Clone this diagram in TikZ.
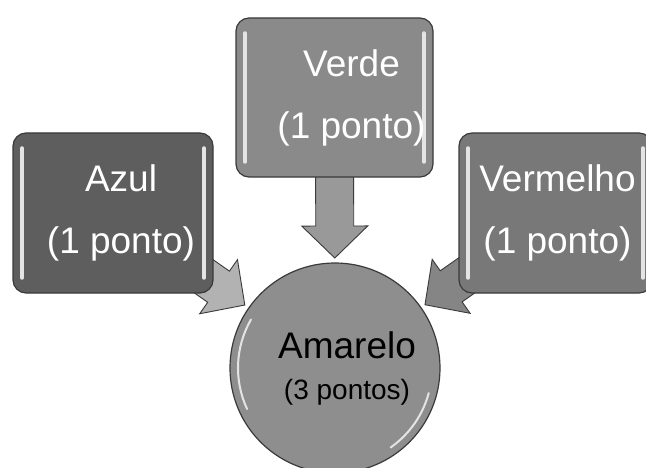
\documentclass[tikz,border=0pt]{standalone}
\usepackage{fontspec}
\setmainfont{Liberation Sans}
\usetikzlibrary{calc,backgrounds}

\definecolor{edgegray}{HTML}{3A3A3A}
\definecolor{shine}{HTML}{E4E4E4}
\definecolor{azulfill}{HTML}{5E5E5E}
\definecolor{verdefill}{HTML}{8A8A8A}
\definecolor{vermelhofill}{HTML}{787878}
\definecolor{amarelofill}{HTML}{8E8E8E}

% fat block arrow from node #1 to node #2, tip kept off the target
\newcommand{\fatarrow}[3]{%
	\draw[fat, fill=#3] let \p1=($(#1.center)-(#2.center)$), \n1={atan2(\y1,\x1)} in
		[shift={(#2.center)}, rotate=\n1] (110,0) -- (142,33) -- (142,19) -- (250,19)
		-- (250,-19) -- (142,-19) -- (142,-33) -- cycle;}

\begin{document}
\begin{tikzpicture}[x=1pt, y=1pt,
	every node/.style={draw=edgegray, line width=1.2pt, inner sep=0pt, align=flush center},
	shifted/.style={execute at begin node={\leftskip=#1 plus 1fil\relax}},
	box/.style={rectangle, rounded corners=13pt, text width=186pt, text=white,
		font=\fontsize{37}{62}\selectfont,
		path picture={
			\draw[shine, line width=3.5pt, line cap=round]
				([xshift=9pt, yshift=-15pt]path picture bounding box.north west)
				-- ([xshift=9pt, yshift=15pt]path picture bounding box.south west);
			\draw[shine, line width=3.5pt, line cap=round]
				([xshift=-9pt, yshift=-15pt]path picture bounding box.north east)
				-- ([xshift=-9pt, yshift=15pt]path picture bounding box.south east);
		}},
	ball/.style={circle, minimum size=210pt, text width=170pt, text=black,
		font=\fontsize{37}{40}\selectfont,
		path picture={
			\draw[shine, line width=2pt, line cap=round]
				(path picture bounding box.center) ++(150:97) arc (150:205:97);
			\draw[shine, line width=2pt, line cap=round]
				(path picture bounding box.center) ++(-15:97) arc (-15:-55:97);
		}},
	fat/.style={draw=edgegray, line width=0.9pt, line join=miter}]

	\useasboundingbox (0,0) rectangle (646,467);
	\clip (0,0) rectangle (646,467);

	\node[box, fill=azulfill, minimum width=200pt, minimum height=160pt, shifted=16pt] (azul) at (113,254) {Azul\\(1 ponto)};
	\node[box, fill=verdefill, minimum width=197pt, minimum height=159pt, shifted=34pt] (verde) at (334.5,369.5) {Verde\\(1 ponto)};
	\node[box, fill=vermelhofill, minimum width=193pt, minimum height=160pt, shifted=4pt] (vermelho) at (555.5,254) {Vermelho\\(1 ponto)};
	\node[ball, fill=amarelofill, shifted=24pt] (amarelo) at (335,99) {Amarelo\\{\fontsize{28}{41}\selectfont (3 pontos)\par}};

	\begin{pgfonlayer}{background}
		\fatarrow{azul}{amarelo}{black!30}
		\fatarrow{verde}{amarelo}{black!40}
		\fatarrow{vermelho}{amarelo}{black!48}
	\end{pgfonlayer}
\end{tikzpicture}
\end{document}
